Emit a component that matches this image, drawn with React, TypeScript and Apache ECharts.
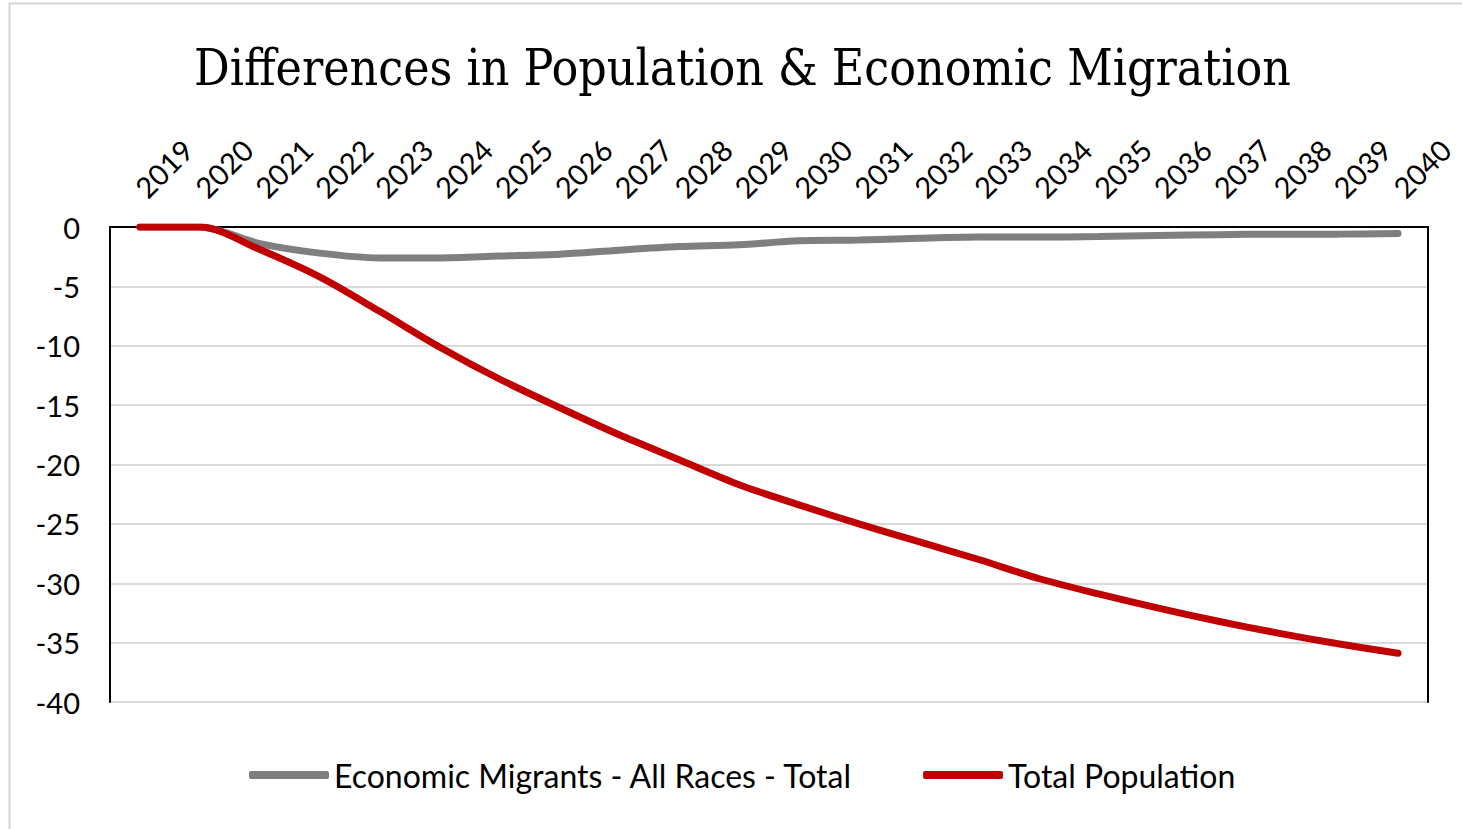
import React, { useEffect, useRef } from "react";
import * as echarts from "echarts";

const years = [
  "2019", "2020", "2021", "2022", "2023", "2024", "2025", "2026", "2027", "2028", "2029",
  "2030", "2031", "2032", "2033", "2034", "2035", "2036", "2037", "2038", "2039", "2040",
];

const economicMigrants = [
  0, 0, -1.4, -2.2, -2.6, -2.6, -2.45, -2.3, -1.95, -1.65, -1.5,
  -1.15, -1.1, -0.95, -0.85, -0.85, -0.8, -0.72, -0.65, -0.6, -0.6, -0.55,
];

const totalPopulation = [
  0, 0, -1.9, -4.2, -7.1, -10.1, -12.8, -15.2, -17.5, -19.6, -21.7,
  -23.4, -25.0, -26.5, -28.0, -29.6, -30.9, -32.1, -33.2, -34.2, -35.1, -35.9,
];

const yMin = -40;
const yMax = 0;
const yStep = 5;

const legendNames = ["Economic Migrants - All Races - Total", "Total Population"];
const titleText = "Differences in Population & Economic Migration";

export default function App() {
  const ref = useRef<HTMLDivElement>(null);
  useEffect(() => {
    const chart = echarts.init(ref.current!, null, { renderer: "svg" });
    const labelFont = "Lato";
    chart.setOption({
      animation: false,
      backgroundColor: "#ffffff",
      graphic: [
        {
          type: "rect",
          shape: { x: 9.5, y: 3.5, width: 1460, height: 830 },
          style: { fill: "none", stroke: "#d4d4d4", lineWidth: 2 },
          silent: true,
        },
      ],
      title: {
        text: titleText,
        left: 189,
        top: 38,
        textStyle: {
          fontFamily: "DejaVu Serif Condensed",
          fontSize: 49.5,
          fontWeight: "normal",
          color: "#000000",
        },
      },
      legend: {
        data: legendNames,
        left: 244,
        top: 754,
        icon: "roundRect",
        itemWidth: 80,
        itemHeight: 8,
        itemGap: 70,
        textStyle: { fontFamily: labelFont, fontSize: 32, color: "#000000" },
      },
      grid: { left: 110, right: 34, top: 227, bottom: 127, containLabel: false },
      xAxis: [
        {
          type: "category",
          data: years,
          position: "top",
          boundaryGap: true,
          axisLine: { show: false },
          axisTick: { show: false },
          splitLine: { show: false },
          axisLabel: {
            rotate: 45,
            interval: 0,
            fontFamily: labelFont,
            fontSize: 29,
            color: "#000000",
            margin: 35,
          },
        },
        {
          type: "category",
          data: years,
          position: "bottom",
          axisLine: { show: true, lineStyle: { color: "#000000", width: 2 } },
          axisTick: { show: false },
          axisLabel: { show: false },
          splitLine: { show: false },
        },
      ],
      yAxis: [
        {
          type: "value",
          min: yMin,
          max: yMax,
          interval: yStep,
          axisLine: { show: true, lineStyle: { color: "#000000", width: 2 } },
          axisTick: { show: false },
          axisLabel: {
            fontFamily: labelFont,
            fontSize: 29,
            color: "#000000",
            margin: 30,
          },
          splitLine: { show: true, lineStyle: { color: "#d9d9d9", width: 2 } },
        },
        {
          type: "value",
          position: "right",
          min: yMin,
          max: yMax,
          interval: yStep,
          axisLine: { show: true, lineStyle: { color: "#000000", width: 2 } },
          axisTick: { show: false },
          axisLabel: { show: false },
          splitLine: { show: false },
        },
      ],
      series: [
        {
          name: legendNames[0],
          type: "line",
          data: economicMigrants,
          smooth: 0.3,
          symbol: "none",
          lineStyle: { color: "#7f7f7f", width: 7, cap: "round" },
          itemStyle: { color: "#7f7f7f" },
          z: 2,
        },
        {
          name: legendNames[1],
          type: "line",
          data: totalPopulation,
          smooth: 0.3,
          symbol: "none",
          lineStyle: { color: "#c00000", width: 7, cap: "round" },
          itemStyle: { color: "#c00000" },
          z: 3,
        },
      ],
    });
    return () => chart.dispose();
  }, []);
  return (
    <div
      ref={ref}
      style={{ position: "fixed", left: 0, top: 0, width: 1462, height: 829 }}
    />
  );
}
